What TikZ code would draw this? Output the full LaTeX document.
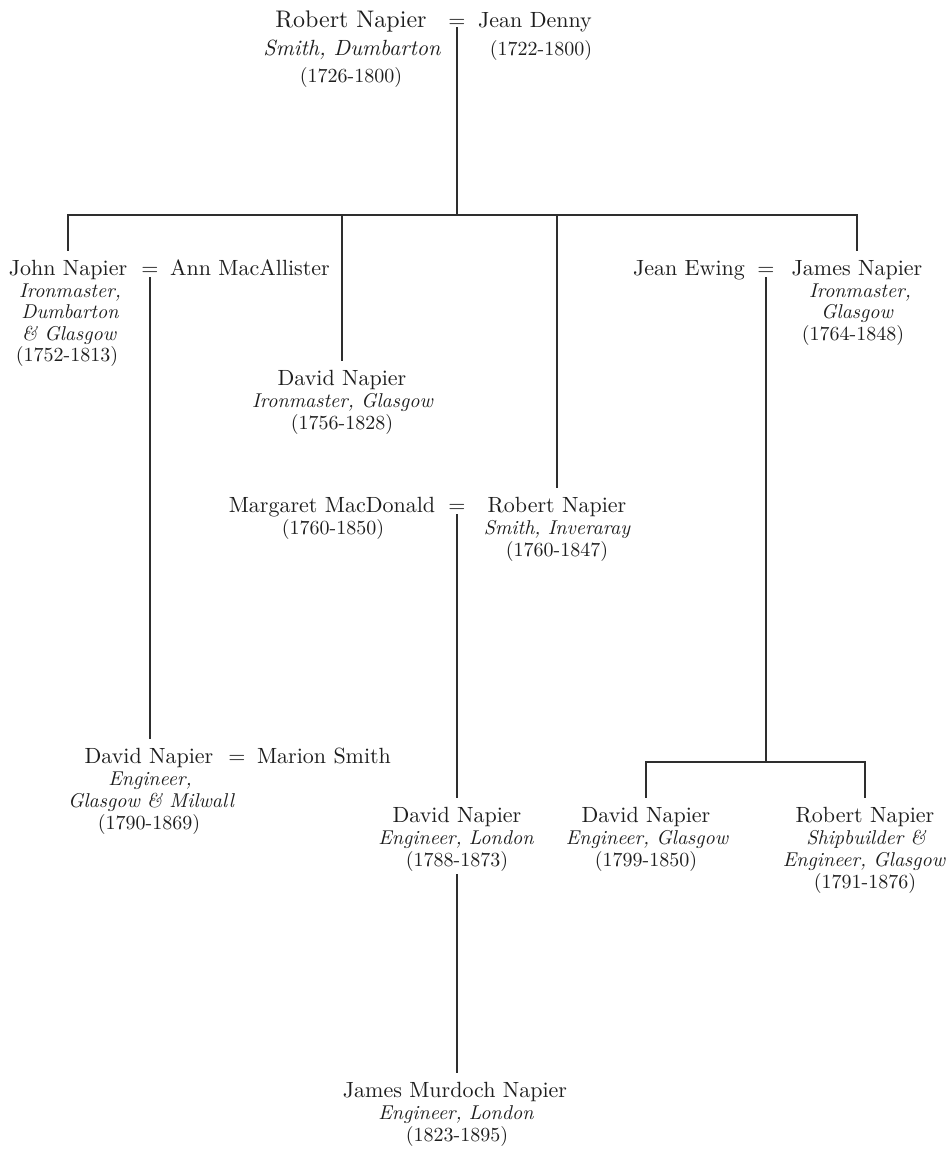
\documentclass[tikz,border=0pt]{standalone}
\usepackage{fontspec}
% the 10pt design of Latin Modern at every size: firmer strokes than the display cuts
\setmainfont{lmroman10-regular.otf}[ItalicFont=lmroman10-italic.otf, BoldFont=lmroman10-bold.otf]
\definecolor{inkcol}{HTML}{1E1E1E}
\definecolor{linecol}{HTML}{2E2E2E}
\begin{document}
\begin{tikzpicture}[x=1pt,y=-1pt,
  ink/.style={line width=1.4pt, draw=linecol},
  pname/.style={anchor=base, inner xsep=1pt, inner ysep=8pt, text height=16pt, text depth=5pt,
    font=\fontsize{22}{27}\selectfont, text=inkcol},
  prole/.style={anchor=base, inner sep=0pt, font=\fontsize{20}{22}\selectfont\itshape, text=inkcol},
  toprole/.style={prole, font=\fontsize{22}{27}\selectfont\itshape},
  pyears/.style={anchor=base, inner xsep=0pt, inner ysep=3pt, font=\fontsize{20}{22}\selectfont, text=inkcol},
  wed/.style={anchor=base, inner sep=0pt, text depth=0pt, font=\fontsize{22}{27}\selectfont, text=inkcol},
]
\fill[white] (0,0) rectangle (952,1157);
\useasboundingbox (0,0) rectangle (952,1157);

% ---- first generation ----
\node[pname, font=\fontsize{24}{27}\selectfont] (rn) at (351,27) {Robert Napier};
\node[wed] (w0) at (457,27) {=};
\node[pname] (jd) at (535,27) {Jean Denny};
\node[toprole] (rnr) at (352,55) {Smith, Dumbarton};
\node[pyears] (rnyrs) at (351,82) {(1726-1800)};
\node[pyears] (jdyrs) at (541,55) {(1722-1800)};

% ---- second generation ----
\node[pname] (jn) at (68,275) {John Napier};
\node[prole] (jnr1) at (70,297) {Ironmaster,};
\node[prole] (jnr2) at (70,318.5) {Dumbarton};
\node[prole] (jnr3) at (69,340) {\& Glasgow};
\node[pyears] (jnyrs) at (67,361.5) {(1752-1813)};
\node[wed] (w1) at (150,275) {=};
\node[pname] (am) at (250,275) {Ann MacAllister};

\node[pname] (dn) at (342,385) {David Napier};
\node[prole] (dnr) at (342.5,407) {Ironmaster, Glasgow};
\node[pyears] (dnyrs) at (342,429) {(1756-1828)};

\node[pname] (mm) at (332,512) {Margaret MacDonald};
\node[wed] (w2) at (457,512) {=};
\node[pname] (rbn) at (557,512) {Robert Napier};
\node[pyears] (mmyrs) at (333,534) {(1760-1850)};
\node[prole] (rbnr) at (557,534) {Smith, Inveraray};
\node[pyears] (rbnyrs) at (557,556) {(1760-1847)};

\node[pname] (je) at (689,275) {Jean Ewing};
\node[wed] (w3) at (766,275) {=};
\node[pname] (jan) at (857,275) {James Napier};
\node[prole] (janr1) at (860,297) {Ironmaster,};
\node[prole] (janr2) at (857,318.5) {Glasgow};
\node[pyears] (janyrs) at (853,340) {(1764-1848)};

% ---- third generation ----
\node[pname] (dm) at (149,763) {David Napier};
\node[wed] (w4) at (237,763) {=};
\node[pname] (ms) at (324,763) {Marion Smith};
\node[prole] (dmr1) at (150,785) {Engineer,};
\node[prole] (dmr2) at (151,807) {Glasgow \& Milwall};
\node[pyears] (dmyrs) at (149,829) {(1790-1869)};

\node[pname] (dl) at (457,822) {David Napier};
\node[prole] (dlr) at (456,844) {Engineer, London};
\node[pyears] (dlyrs) at (457,866) {(1788-1873)};

\node[pname] (dg) at (646,822) {David Napier};
\node[prole] (dgr) at (647,844) {Engineer, Glasgow};
\node[pyears] (dgyrs) at (646,866) {(1799-1850)};

\node[pname] (rs) at (865,822) {Robert Napier};
\node[prole] (rsr1) at (866,844) {Shipbuilder \&};
\node[prole] (rsr2) at (864,866) {Engineer, Glasgow};
\node[pyears] (rsyrs) at (865,888) {(1791-1876)};

% ---- fourth generation ----
\node[pname] (jmn) at (455,1097) {James Murdoch Napier};
\node[prole] (jmnr) at (456,1119) {Engineer, London};
\node[pyears] (jmnyrs) at (457,1141) {(1823-1895)};

% ---- descent lines ----
\coordinate (bar1) at (457,215);
\draw[ink] (w0.south) -- (bar1);
\draw[ink] (jn.north) |- (bar1) -| (jan.north);
\draw[ink] (dn.north) -- (dn.north |- bar1);
\draw[ink] (rbn.north) -- (rbn.north |- bar1);

\draw[ink] ([yshift=-2pt]w1.south) -- (w1.south |- dm.north);
\draw[ink] ([yshift=-2pt]w2.south) -- (w2.south |- dl.north);

\coordinate (bar2) at (766,762);
\draw[ink] ([yshift=-2pt]w3.south) -- (bar2);
\draw[ink] (dg.north) |- (bar2) -| (rs.north);

\draw[ink] (dlyrs.south) -- (dlyrs.south |- jmn.north);
\end{tikzpicture}
\end{document}
